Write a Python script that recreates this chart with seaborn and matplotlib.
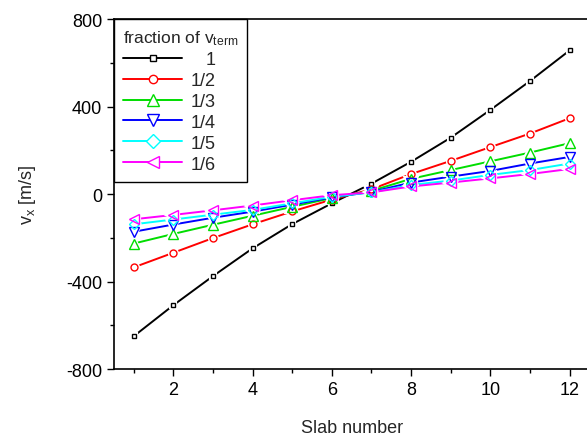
import numpy as np
import pandas as pd
import matplotlib
matplotlib.use("Agg")
import matplotlib.pyplot as plt
import seaborn as sns
from matplotlib.lines import Line2D

slab = list(range(1, 13))
labels = ["1", "1/2", "1/3", "1/4", "1/5", "1/6"]
v_1 = [-650, -508, -375, -248, -137, -42, 48, 148, 258, 385, 517, 657]
v_2 = [-335, -268, -201, -138, -79, -25, 22, 92, 152, 215, 277, 347]
v_3 = [-226, -182, -140, -99, -58, -18, 15, 70, 110, 150, 190, 233]
v_4 = [-172, -139, -108, -80, -48, -15, 10, 53, 80, 106, 140, 170]
v_5 = [-138, -116, -94, -72, -42, -12, 8, 42, 62, 88, 110, 140]
v_6 = [-115, -95, -74, -52, -28, -5, 8, 35, 53, 72, 92, 115]
series = [v_1, v_2, v_3, v_4, v_5, v_6]

colors = ["#000000", "#ff0000", "#00dd00", "#0000ff", "#00ffff", "#ff00ff"]
markers = ["s", "o", "^", "v", "D", "<"]
msizes = [3.5, 5, 6.5, 6.5, 5.5, 6.5]
leg_msizes = [4, 6, 8, 8, 7, 8]

df = pd.DataFrame({
    "slab": slab * len(labels),
    "v": sum(series, []),
    "frac": [l for l in labels for _ in slab],
})

sns.set_style("ticks")
plt.rcParams["font.family"] = ["Liberation Sans", "DejaVu Sans"]
plt.rcParams["mathtext.fontset"] = "custom"
plt.rcParams["mathtext.rm"] = "Liberation Sans"
plt.rcParams["mathtext.it"] = "Liberation Sans"
plt.rcParams["axes.unicode_minus"] = False

fig = plt.figure(figsize=(5.87, 4.39), dpi=100)
ax = fig.add_axes([0.194, 0.157, 0.810, 0.797])

pal = dict(zip(labels, colors))
sns.lineplot(data=df, x="slab", y="v", hue="frac", hue_order=labels,
             palette=pal, linewidth=1.4, legend=False, ax=ax, zorder=2)

for lab, c, m, ms in zip(labels, colors, markers, msizes):
    sub = df[df.frac == lab]
    ax.plot(sub.slab, sub.v, linestyle="none", marker=m, markersize=ms,
            markerfacecolor="white", markeredgecolor="white",
            markeredgewidth=3, zorder=3)
for lab, c, m, ms in zip(labels, colors, markers, msizes):
    sub = df[df.frac == lab]
    ax.plot(sub.slab, sub.v, linestyle="none", marker=m, markersize=ms,
            markerfacecolor="none", markeredgecolor=c,
            markeredgewidth=1.0, zorder=4)

ax.set_xlim(0.5, 12.5)
ax.set_ylim(-800, 800)
ax.set_xticks([2, 4, 6, 8, 10, 12])
ax.set_xticks(range(1, 13, 2), minor=True)
ax.set_yticks([-800, -400, 0, 400, 800])
ax.set_yticks([-600, -200, 200, 600], minor=True)
ax.tick_params(axis="both", which="major", direction="out", length=5,
               width=1, labelsize=13, color="black", labelcolor="black")
ax.tick_params(axis="both", which="minor", direction="out", length=3,
               width=1, color="black")
ax.tick_params(top=False, right=False)
for s in ax.spines.values():
    s.set_color("black")
    s.set_linewidth(1.2)

ax.set_xlabel("Slab number", fontsize=13, labelpad=15)
ax.set_ylabel("v$_x$ [m/s]", fontsize=13, labelpad=20)

handles = [Line2D([0], [0], color=c, marker=m, markersize=ms,
                  markerfacecolor="white", markeredgecolor=c, lw=1.4)
           for c, m, ms in zip(colors, markers, leg_msizes)]
leg_labels = ["   1"] + labels[1:]
leg = ax.legend(handles, leg_labels, title="fraction of v$_{\\mathrm{term}}$",
                loc="upper left", fontsize=13, title_fontsize=12.5,
                frameon=True, fancybox=False, edgecolor="black",
                framealpha=1, handlelength=3.3, borderaxespad=0,
                labelspacing=0.22, handletextpad=0.45, borderpad=0.5)
leg._legend_box.align = "left"
leg.get_frame().set_linewidth(1.0)

fig.savefig("out.png", dpi=100)
